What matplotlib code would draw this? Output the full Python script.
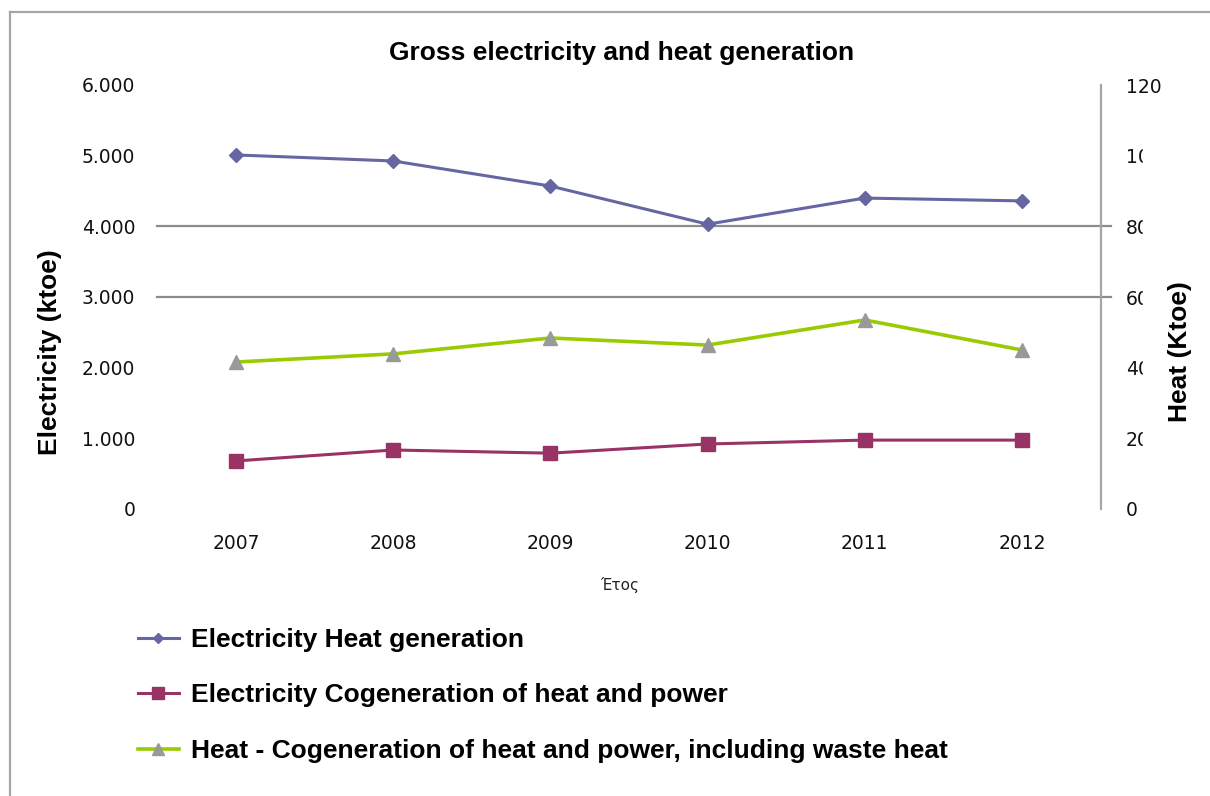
import matplotlib
matplotlib.use("Agg")
import matplotlib.pyplot as plt
from matplotlib.ticker import FuncFormatter
from matplotlib.lines import Line2D
from matplotlib.patches import Rectangle

# data
years = [2007, 2008, 2009, 2010, 2011, 2012]
elec_heat = [5010, 4925, 4570, 4030, 4400, 4360]      # left axis, ktoe
elec_chp = [680, 835, 790, 920, 975, 975]             # left axis, ktoe
heat_chp = [41.6, 43.9, 48.4, 46.4, 53.5, 45.0]       # right axis, Ktoe

left_ticks = [0, 1000, 2000, 3000, 4000, 5000, 6000]
right_ticks = [0, 20, 40, 60, 80, 100, 120]
grid_levels = [3000, 4000]

labels = ["Electricity Heat generation",
          "Electricity Cogeneration of heat and power",
          "Heat - Cogeneration of heat and power, including waste heat"]

W, H = 1210, 796
fig = plt.figure(figsize=(W / 100, H / 100), dpi=100)

# plot area in pixels: x 157..1101, y 85..509
ax = fig.add_axes([157.4 / W, 1 - 509 / H, 943.2 / W, 424 / H])
ax2 = ax.twinx()

x = list(range(len(years)))
ax.plot(x, elec_heat, color="#6666a3", lw=2.2, marker="D", ms=7,
        label=labels[0], zorder=3)
ax.plot(x, elec_chp, color="#993366", lw=2.2, marker="s", ms=10,
        label=labels[1], zorder=3)
ax2.plot(x, heat_chp, color="#99cc00", lw=2.6, marker="^", ms=10,
         mfc="#999999", mec="#999999", label=labels[2], zorder=3)

ax.set_xlim(-0.5, len(years) - 0.5)
ax.set_ylim(0, 6000)
ax2.set_ylim(0, 120)

for g in grid_levels:
    ax.axhline(g, xmin=0, xmax=1.0105, color="#8c8c8c", lw=1.6,
               clip_on=False, zorder=1)

tick_font = dict(family="DejaVu Sans", size=13.5, color="#111111")
ax.set_xticks(x)
ax.set_xticklabels([str(y) for y in years], **tick_font)
ax.set_yticks(left_ticks)
ax.yaxis.set_major_formatter(FuncFormatter(lambda v, p: f"{int(v):,}".replace(",", ".")))
for t in ax.get_yticklabels():
    t.set_fontfamily("DejaVu Sans")
    t.set_fontsize(13.5)
    t.set_color("#111111")
ax2.set_yticks(right_ticks)
ax2.set_yticklabels([str(v) for v in right_ticks], **tick_font)

ax.tick_params(axis="x", length=0, pad=18)
ax.tick_params(axis="y", length=0, pad=16)
ax2.tick_params(axis="y", length=0, pad=18)

for s in ["top", "left", "bottom"]:
    ax.spines[s].set_visible(False)
    ax2.spines[s].set_visible(False)
ax.spines["right"].set_visible(False)
ax2.spines["right"].set_color("#a6a6a6")
ax2.spines["right"].set_linewidth(1.6)

# the right-hand labels are clipped by the axis-title box in the original
fig.add_artist(Rectangle((1143 / W, 1 - 530 / H), 25 / W, 400 / H,
                         transform=fig.transFigure, color="white", zorder=5))

fig.text(622 / W, 1 - 53 / H, "Gross electricity and heat generation",
         ha="center", va="center", family="Liberation Sans",
         weight="bold", size=19)
fig.text(620 / W, 1 - 585 / H, "Έτος", ha="center", va="center",
         family="DejaVu Sans", size=11, color="#222222")
fig.text(50 / W, 1 - 352 / H, "Electricity (ktoe)", rotation=90,
         ha="center", va="center", family="Liberation Sans",
         weight="bold", size=19)
fig.text(1180 / W, 1 - 352 / H, "Heat (Ktoe)", rotation=90,
         ha="center", va="center", family="Liberation Sans",
         weight="bold", size=19, zorder=6)

h1, l1 = ax.get_legend_handles_labels()
h2, l2 = ax2.get_legend_handles_labels()
handles = [Line2D([], [], color=h.get_color(), lw=h.get_linewidth(),
                  marker=h.get_marker(), ms=h.get_markersize() * 0.8,
                  mfc=h.get_markerfacecolor(), mec=h.get_markeredgecolor())
           for h in h1 + h2]
fig.legend(handles, l1 + l2, loc="upper left",
           bbox_to_anchor=(114 / W, 1 - 604 / H), frameon=False,
           prop=dict(family="Liberation Sans", weight="bold", size=19),
           handlelength=1.55, handletextpad=0.45, labelspacing=1.2)

# outer frame (top and left edges)
fig.add_artist(Line2D([10 / W, 1], [1 - 12 / H, 1 - 12 / H],
                      color="#a6a6a6", lw=1.6))
fig.add_artist(Line2D([10 / W, 10 / W], [0, 1 - 12 / H],
                      color="#a6a6a6", lw=1.6))

fig.savefig("out.png", dpi=100)
